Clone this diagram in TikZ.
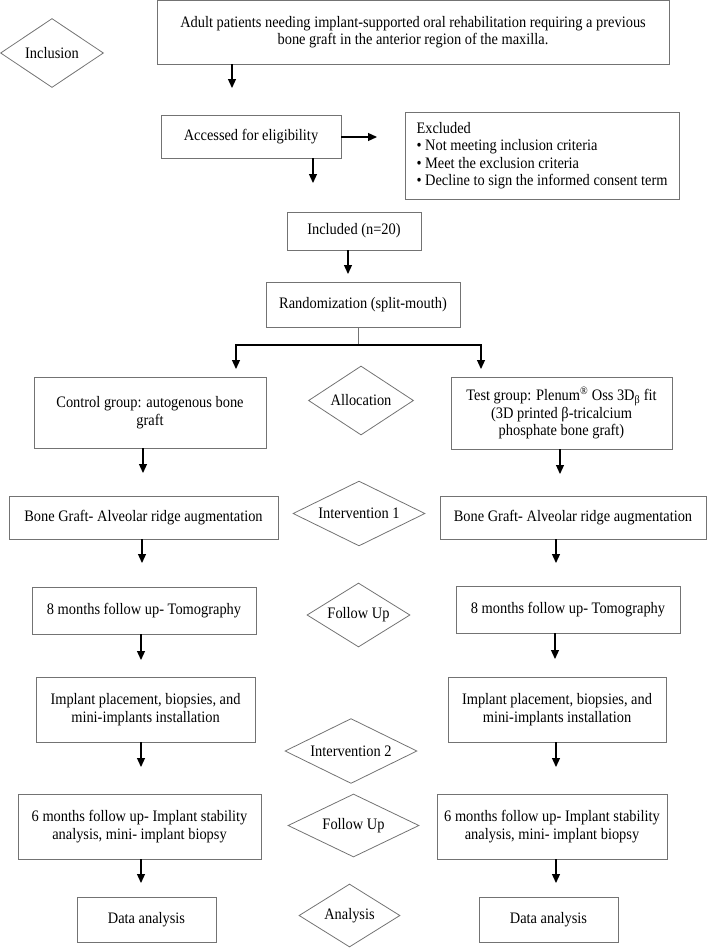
\documentclass[tikz,border=0pt]{standalone}
\usepackage{fontspec}
\setmainfont{Liberation Serif}[FakeStretch=0.9]
\usetikzlibrary{arrows.meta,shapes.geometric}
\definecolor{edgegray}{gray}{0.45}

\begin{document}
\begin{tikzpicture}[x=1pt,y=-1pt,
  font=\fontsize{16}{17.5}\selectfont,
  wh/.style 2 args={minimum width=#1pt, minimum height=#2pt},
  box/.style={draw=edgegray, line width=0.8pt, align=center, inner sep=0pt},
  phase/.style={draw=edgegray, line width=0.8pt, diamond, aspect=1.5, inner sep=0pt},
  arr/.style={-{Triangle[length=9pt,width=8pt]}, line width=1.2pt}]
\useasboundingbox (0,0) rectangle (708,948);

\node[phase, wh={103}{69}] (incl) at (52,53) {Inclusion};
\node[box, wh={512}{64}] (adult) at (413,32) {Adult patients needing implant-supported oral rehabilitation requiring a previous\\bone graft in the anterior region of the maxilla.};
\node[box, wh={180}{43}] (elig) at (251,136.5) {Accessed for eligibility};
\node[box, wh={274}{87}, align=left] (excl) at (542,155.5) {Excluded\\• Not meeting inclusion criteria\\• Meet the exclusion criteria\\• Decline to sign the informed consent term};
\node[box, wh={134}{38}] (incd) at (354,231) {Included (n=20)};
\node[box, wh={194}{45}] (rand) at (363,304.5) {Randomization (split-mouth)};

\node[box, wh={232}{71}] (ctrl) at (150,412.5) {Control group: autogenous bone\\graft};
\node[phase, wh={105}{69}] (alloc) at (361,400.5) {Allocation};
\node[box, wh={221}{72}] (test) at (561.5,413) {Test group: Plenum\textsuperscript{®} Oss 3D\textsubscript{β} fit\\(3D printed β-tricalcium\\phosphate bone graft)};

\node[box, wh={269}{43}] (graftL) at (143.5,517.5) {Bone Graft- Alveolar ridge augmentation};
\node[phase, wh={132}{63}] (int1) at (359,513.5) {Intervention 1};
\node[box, wh={266}{43}] (graftR) at (573,517.5) {Bone Graft- Alveolar ridge augmentation};

\node[box, wh={224}{47}] (tomoL) at (144,610.5) {8 months follow up- Tomography};
\node[phase, wh={103}{64}] (fol1) at (358.5,615) {Follow Up};
\node[box, wh={224}{47}] (tomoR) at (568,609.5) {8 months follow up- Tomography};

\node[box, wh={219}{65}] (implL) at (145.5,709.5) {Implant placement, biopsies, and\\mini-implants installation};
\node[phase, wh={132}{64}] (int2) at (351,751) {Intervention 2};
\node[box, wh={218}{65}] (implR) at (557,709.5) {Implant placement, biopsies, and\\mini-implants installation};

\node[box, wh={243}{65}] (stabL) at (139.5,826.5) {6 months follow up- Implant stability\\analysis, mini- implant biopsy};
\node[phase, wh={131}{63}] (fol2) at (353.5,825.5) {Follow Up};
\node[box, wh={230}{65}] (stabR) at (552,826.5) {6 months follow up- Implant stability\\analysis, mini- implant biopsy};

\node[box, wh={139}{45}] (dataL) at (146.5,919.5) {Data analysis};
\node[phase, wh={101}{63}] (anal) at (349.5,915.5) {Analysis};
\node[box, wh={139}{45}] (dataR) at (548.5,919.5) {Data analysis};

\coordinate (a1) at (232,88);
\coordinate (a2) at (377,137);
\coordinate (a3) at (313,183);
\coordinate (a4) at (348,274);
\coordinate (sp) at (358,345);
\coordinate (gL) at (236,369);
\coordinate (gR) at (481,369);
\coordinate (c1) at (143,473);
\coordinate (c2) at (560,474);
\coordinate (b1) at (142,563);
\coordinate (b2) at (556,563);
\coordinate (m1) at (141,660);
\coordinate (m2) at (555,659);
\coordinate (i1) at (141,767);
\coordinate (i2) at (556,767);
\coordinate (s1) at (141,883);
\coordinate (s2) at (556,883);

\draw[arr] (adult.south -| a1) -- (a1);
\draw[arr] (elig.east |- a2) -- (a2);
\draw[arr] (elig.south -| a3) -- (a3);
\draw[arr] (incd.south -| a4) -- (a4);
\draw[draw=edgegray, line width=0.8pt] (rand.south -| sp) -- (sp);
\draw[arr] (sp) -| (gL);
\draw[arr] (sp) -| (gR);
\draw[arr] (ctrl.south -| c1) -- (c1);
\draw[arr] (test.south -| c2) -- (c2);
\draw[arr] (graftL.south -| b1) -- (b1);
\draw[arr] (graftR.south -| b2) -- (b2);
\draw[arr] (tomoL.south -| m1) -- (m1);
\draw[arr] (tomoR.south -| m2) -- (m2);
\draw[arr] (implL.south -| i1) -- (i1);
\draw[arr] (implR.south -| i2) -- (i2);
\draw[arr] (stabL.south -| s1) -- (s1);
\draw[arr] (stabR.south -| s2) -- (s2);
\end{tikzpicture}
\end{document}
